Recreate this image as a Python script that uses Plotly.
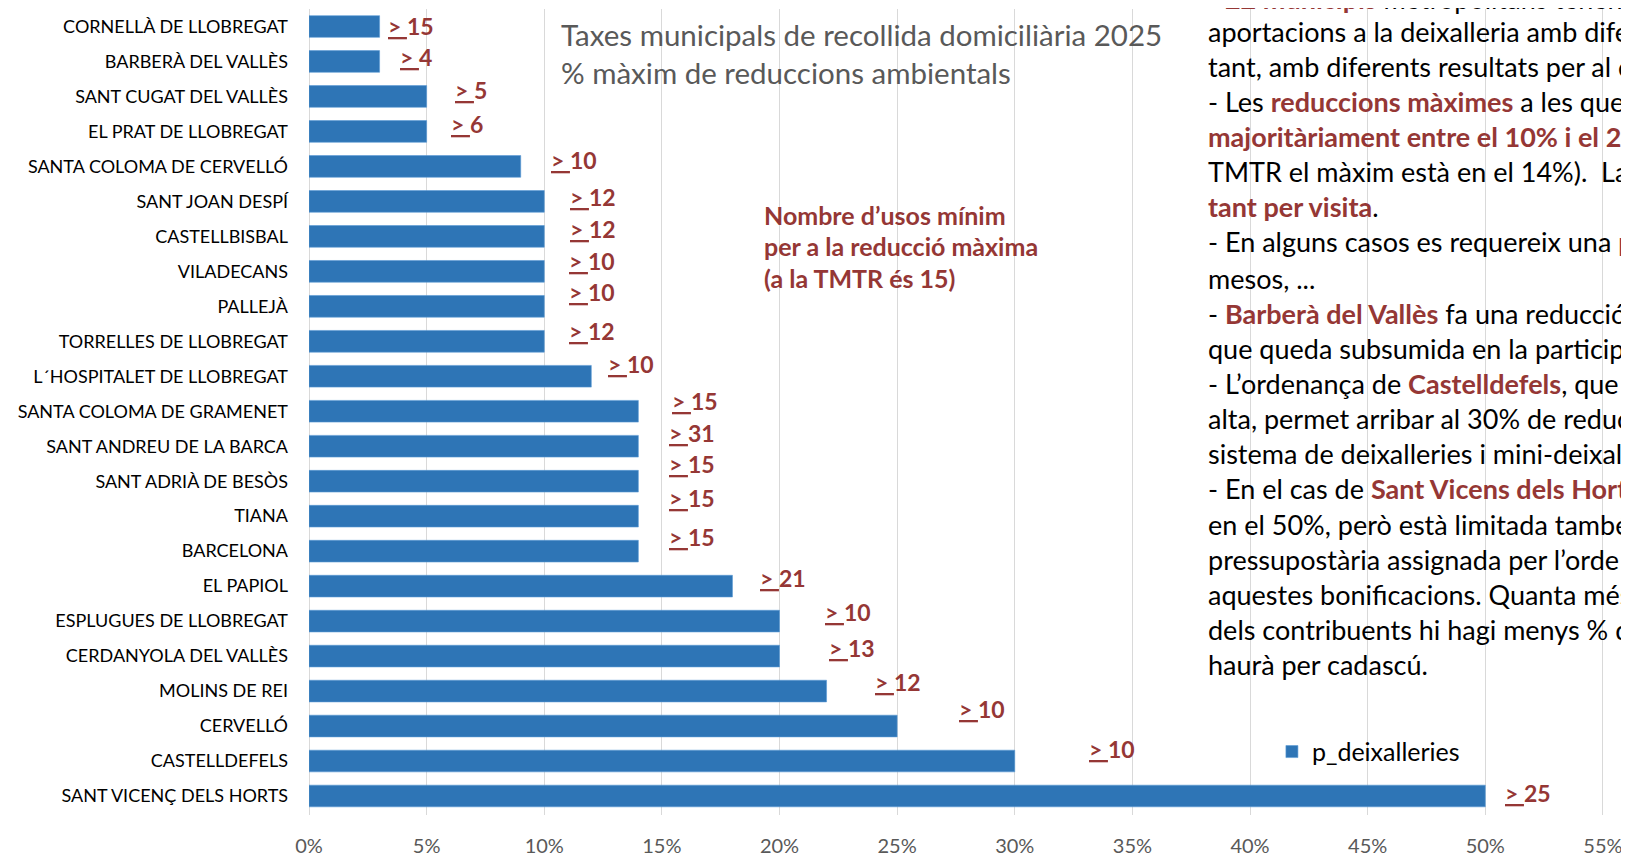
import plotly.graph_objects as go

# ---------------- data ----------------
municipis = [
    "CORNELLÀ DE LLOBREGAT", "BARBERÀ DEL VALLÈS", "SANT CUGAT DEL VALLÈS",
    "EL PRAT DE LLOBREGAT", "SANTA COLOMA DE CERVELLÓ", "SANT JOAN DESPÍ",
    "CASTELLBISBAL", "VILADECANS", "PALLEJÀ", "TORRELLES DE LLOBREGAT",
    "L´HOSPITALET DE LLOBREGAT", "SANTA COLOMA DE GRAMENET",
    "SANT ANDREU DE LA BARCA", "SANT ADRIÀ DE BESÒS", "TIANA", "BARCELONA",
    "EL PAPIOL", "ESPLUGUES DE LLOBREGAT", "CERDANYOLA DEL VALLÈS",
    "MOLINS DE REI", "CERVELLÓ", "CASTELLDEFELS", "SANT VICENÇ DELS HORTS",
]
p_deixalleries = [0.03, 0.03, 0.05, 0.05, 0.09, 0.10, 0.10, 0.10, 0.10, 0.10,
                  0.12, 0.14, 0.14, 0.14, 0.14, 0.14, 0.18, 0.20, 0.20, 0.22,
                  0.25, 0.30, 0.50]
usos_minims = [15, 4, 5, 6, 10, 12, 12, 10, 10, 12, 10, 15, 31, 15, 15, 15,
               21, 10, 13, 12, 10, 10, 25]
series_name = "p_deixalleries"

title_lines = ["Taxes municipals de recollida domiciliària 2025",
               "% màxim de reduccions ambientals"]
note_lines = ["Nombre d’usos mínim", "per a la reducció màxima",
              "(a la TMTR és 15)"]

RED = "#953735"
def r(t):
    return f"<span style='color:{RED}'><b>{t}</b></span>"

side_lines = [
    "- " + r("22 municipis") + " metropolitans tenen",
    "aportacions a la deixalleria amb dife",
    "tant, amb diferents resultats per al c",
    "- Les " + r("reduccions màximes") + " a les que",
    r("majoritàriament entre el 10% i el 2"),
    "TMTR el màxim està en el 14%).  La",
    r("tant per visita") + ".",
    "- En alguns casos es requereix una " + r("p"),
    "mesos, ...",
    "- " + r("Barberà del Vallès") + " fa una reducció",
    "que queda subsumida en la particip",
    "- L’ordenança de " + r("Castelldefels") + ", que",
    "alta, permet arribar al 30% de reduc",
    "sistema de deixalleries i mini-deixal",
    "- En el cas de " + r("Sant Vicens dels Horts"),
    "en el 50%, però està limitada també",
    "pressupostària assignada per l’orde",
    "aquestes bonificacions. Quanta més",
    "dels contribuents hi hagi menys % d",
    "haurà per cadascú.",
]

# ---------------- layout / style ----------------
OFF = 8                      # page body margin
PAGE_W, PAGE_H = 1629, 856
FIG_W, FIG_H = PAGE_W - OFF, PAGE_H - OFF
PL, PT, PB = 309.3, 9.0, 815.2          # plot area in page pixels
PW, PH = PAGE_W - PL, PB - PT
FONT = "Lato, 'Open Sans', sans-serif"

def xp(px):
    return (px - PL) / PW

def yp(py):
    return 1 - (py - PT) / PH

# label offsets (pixels) from bar end, as placed in the original
label_dx = [7, 19, 27, 23, 29, 25, 25, 24, 24, 24, 16, 33, 30, 30, 30, 30,
            27, 44, 48, 47, 61, 73, 19]
label_dy = [0, -4, -6, -7, -6, -4, -7, -10, -14, -10, -12, -10, -13, -17,
            -18, -14, -8, -9, -8, -9, -17, -12, -3]

fig = go.Figure()
fig.add_trace(go.Bar(
    y=municipis, x=p_deixalleries, orientation="h", name=series_name,
    marker=dict(color="#2E75B6", line=dict(color="#5B9BD5", width=0.6)),
))

annotations = []
for m, v, n, dx, dy in zip(municipis, p_deixalleries, usos_minims, label_dx, label_dy):
    annotations.append(dict(
        x=v, y=m, xref="x", yref="y", xanchor="left", yanchor="middle",
        text=f"<b><u>>\u00a0</u>{n}</b>", showarrow=False,
        xshift=dx - 1, yshift=-dy,
        font=dict(family=FONT, size=23, color=RED),
    ))

for i, t in enumerate(title_lines):
    annotations.append(dict(
        x=xp(559), y=yp(35 + 37.4 * i), xref="paper", yref="paper",
        xanchor="left", yanchor="middle", text=t, showarrow=False,
        font=dict(family=FONT, size=29.5, color="#595959"),
    ))

for i, t in enumerate(note_lines):
    annotations.append(dict(
        x=xp(762), y=yp(215 + 31.5 * i), xref="paper", yref="paper",
        xanchor="left", yanchor="middle", text=f"<b>{t}</b>", showarrow=False,
        font=dict(family=FONT, size=25, color=RED),
    ))

side_y = [-2, 32, 67, 102, 137, 172, 207, 242, 279, 314, 349, 384, 419, 454,
          489, 525, 560, 595, 630, 665]
for t, y in zip(side_lines, side_y):
    annotations.append(dict(
        x=xp(1206), y=yp(y), xref="paper", yref="paper",
        xanchor="left", yanchor="middle", text=t, showarrow=False,
        font=dict(family=FONT, size=27, color="#000000"),
    ))

fig.update_layout(
    width=FIG_W, height=FIG_H,
    margin=dict(l=PL - OFF, r=0, t=PT - OFF, b=PAGE_H - PB, pad=0),
    paper_bgcolor="white", plot_bgcolor="white",
    bargap=0.38,
    showlegend=True,
    legend=dict(x=xp(1272), y=yp(752), xanchor="left", yanchor="middle",
                font=dict(family=FONT, size=25, color="#000000"),
                bgcolor="rgba(0,0,0,0)"),
    annotations=annotations,
    font=dict(family=FONT),
)
fig.update_xaxes(
    range=[0, PW / 23.52 / 100], dtick=0.05, tick0=0, tickformat=".0%",
    showgrid=True, gridcolor="#D9D9D9", gridwidth=1.3,
    zeroline=True, zerolinecolor="#D9D9D9", zerolinewidth=1.3,
    showline=False, ticks="", ticklabelstandoff=17,
    tickfont=dict(family=FONT, size=20, color="#595959"),
)
fig.update_yaxes(
    autorange="reversed", showgrid=False, zeroline=False, showline=False,
    ticks="", ticklabelstandoff=20,
    tickfont=dict(family=FONT, size=18, color="#000000"),
)

fig.write_html("out.html")
